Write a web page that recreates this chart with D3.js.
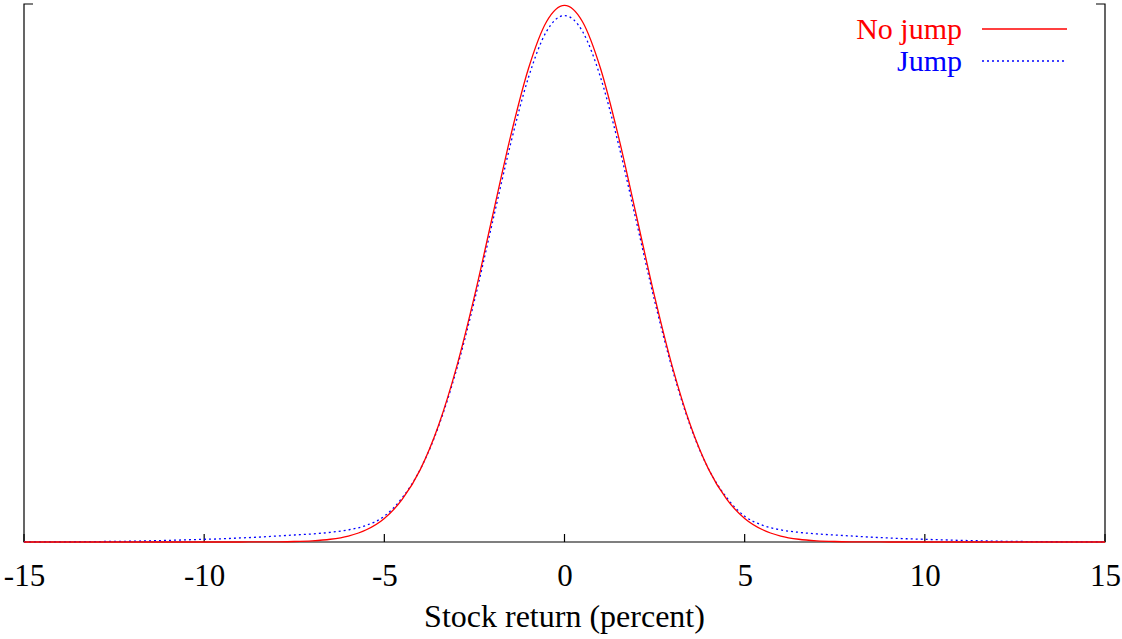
<!DOCTYPE html>
<html lang="en">
<head>
<meta charset="UTF-8">
<title>Stock return density</title>
<style>
  body { margin: 0; background: #fff; }
  svg text { font-family: "Liberation Serif", "Times New Roman", serif; }
</style>
<script src="https://d3js.org/d3.v7.min.js"></script>
</head>
<body>
<svg width="1122" height="639"></svg>
<script>
// stock return grid (percent)
const returns = [
  -15, -14.5, -14, -13.5, -13, -12.5, -12, -11.5, -11, -10.5,
  -10, -9.5, -9, -8.5, -8, -7.5, -7, -6.5, -6, -5.5,
  -5, -4.5, -4, -3.5, -3, -2.5, -2, -1.5, -1, -0.5,
  0, 0.5, 1, 1.5, 2, 2.5, 3, 3.5, 4, 4.5,
  5, 5.5, 6, 6.5, 7, 7.5, 8, 8.5, 9, 9.5,
  10, 10.5, 11, 11.5, 12, 12.5, 13, 13.5, 14, 14.5, 15
];

// density, no-jump model
const noJump = [
  0, 0, 0, 0, 0, 0, 0, 0, 0, 0,
  0, 0.000002, 0.000008, 0.000024, 0.000067, 0.000177, 0.00044, 0.00102, 0.00222, 0.00454,
  0.00876, 0.0159, 0.0270, 0.0432, 0.0648, 0.0913, 0.1210, 0.1506, 0.1760, 0.1934,
  0.1995, 0.1934, 0.1760, 0.1506, 0.1210, 0.0913, 0.0648, 0.0432, 0.0270, 0.0159,
  0.00876, 0.00454, 0.00222, 0.00102, 0.00044, 0.000177, 0.000067, 0.000024, 0.000008, 0.000002,
  0, 0, 0, 0, 0, 0, 0, 0, 0, 0, 0
];

// density, jump model
const jump = [
  0.00003, 0.00005, 0.00007, 0.0001, 0.00015, 0.00022, 0.0003, 0.00045, 0.0006, 0.0008,
  0.0010, 0.0012, 0.0015, 0.0018, 0.0022, 0.0026, 0.0030, 0.0036, 0.0045, 0.0062,
  0.0096, 0.0165, 0.0271, 0.0428, 0.0639, 0.0897, 0.1188, 0.1478, 0.1727, 0.1898,
  0.1957, 0.1898, 0.1727, 0.1478, 0.1188, 0.0897, 0.0639, 0.0428, 0.0271, 0.0165,
  0.0096, 0.0062, 0.0045, 0.0036, 0.0030, 0.0026, 0.0022, 0.0018, 0.0015, 0.0012,
  0.0010, 0.0008, 0.0006, 0.00045, 0.0003, 0.00022, 0.00015, 0.0001, 0.00007, 0.00005, 0.00003
];

const xTicks = [-15, -10, -5, 0, 5, 10, 15];
const seriesNames = ["No jump", "Jump"];

const svg = d3.select("svg");
const margin = {left: 24, right: 17, top: 4, bottom: 97};
const W = 1122, H = 639;

const x = d3.scaleLinear().domain([-15, 15]).range([margin.left, W - margin.right]);
const y = d3.scaleLinear().domain([0, 0.2]).range([H - margin.bottom, margin.top]);

const x0 = x.range()[0], x1 = x.range()[1];
const yb = y(0), yt = y.range()[1];

// frame: left, bottom, right, plus little stubs at top corners
const frame = svg.append("g").attr("stroke", "#000").attr("stroke-width", 1.2).attr("fill", "none");
frame.append("path").attr("d", `M${x0 + 9},${yt}H${x0}V${yb}H${x1}V${yt}H${x1 - 9}`);

// x axis ticks and labels (plain hyphen like the original)
const xAxis = d3.axisBottom(x).tickValues(xTicks).tickSize(0).tickPadding(22)
  .tickFormat(d => String(d));
const gx = svg.append("g").attr("transform", `translate(0,${yb})`).call(xAxis);
gx.select(".domain").remove();
gx.selectAll("text").attr("font-size", 31).attr("fill", "#000")
  .style("font-family", "'Liberation Serif', serif");
svg.append("g").selectAll("line").data(xTicks).join("line")
  .attr("x1", d => x(d)).attr("x2", d => x(d))
  .attr("y1", yb).attr("y2", yb - 8)
  .attr("stroke", "#000").attr("stroke-width", 1.2);

svg.append("text")
  .attr("x", x(0)).attr("y", 627)
  .attr("text-anchor", "middle").attr("font-size", 32)
  .text("Stock return (percent)");

// curves
const line = d3.line().x((d, i) => x(returns[i])).y(d => y(d)).curve(d3.curveMonotoneX);

svg.append("path").datum(jump)
  .attr("d", line).attr("fill", "none")
  .attr("stroke", "#0000ff").attr("stroke-width", 1.3).attr("stroke-dasharray", "2,3");
svg.append("path").datum(noJump)
  .attr("d", line).attr("fill", "none")
  .attr("stroke", "#ff0000").attr("stroke-width", 1.3);

// legend
const legend = svg.append("g");
const colors = ["#ff0000", "#0000ff"];
seriesNames.forEach((name, i) => {
  const ly = 29 + i * 32;
  legend.append("text")
    .attr("x", 962).attr("y", ly + 10)
    .attr("text-anchor", "end").attr("font-size", 30)
    .attr("fill", colors[i]).text(name);
  legend.append("line")
    .attr("x1", 982).attr("x2", 1067).attr("y1", ly).attr("y2", ly)
    .attr("stroke", colors[i]).attr("stroke-width", 1.3)
    .attr("stroke-dasharray", i === 1 ? "2,3" : null);
});
</script>
</body>
</html>
